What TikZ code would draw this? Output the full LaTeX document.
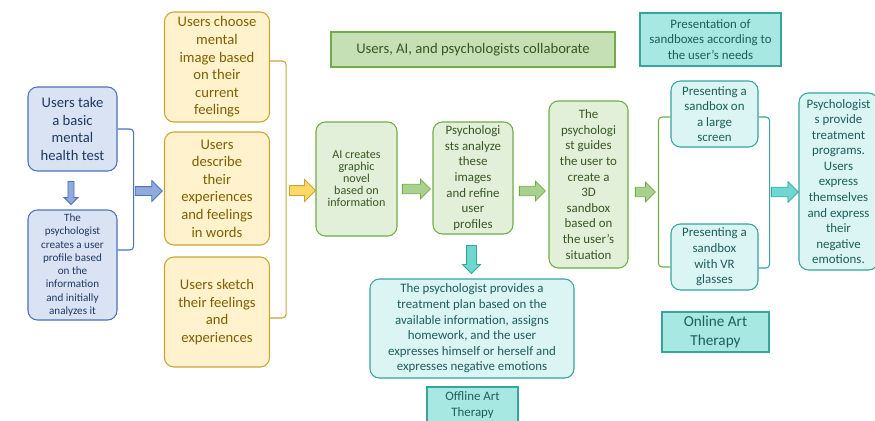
\documentclass[tikz,border=0pt]{standalone}
\usepackage{fontspec}
\setmainfont{Carlito}
\usepackage{tikz}
\usetikzlibrary{positioning,calc,shapes.arrows}
\definecolor{BlueFill}{HTML}{DAE3F3}
\definecolor{BlueLine}{HTML}{4A72BE}
\definecolor{BlueText}{HTML}{203864}
\definecolor{BlueArrow}{HTML}{8FAADC}
\definecolor{GoldFill}{HTML}{FFF2CC}
\definecolor{GoldLine}{HTML}{CDA434}
\definecolor{GoldText}{HTML}{7F6000}
\definecolor{GoldArrow}{HTML}{FFD966}
\definecolor{LeafFill}{HTML}{E2F0D9}
\definecolor{LeafLine}{HTML}{70AD47}
\definecolor{LeafText}{HTML}{385723}
\definecolor{LeafArrow}{HTML}{A9D18E}
\definecolor{LeafTitle}{HTML}{C5E0B4}
\definecolor{TealFill}{HTML}{DAF5F3}
\definecolor{TealLine}{HTML}{35A59D}
\definecolor{TealText}{HTML}{1D5F5A}
\definecolor{TealArrow}{HTML}{6DD8D0}
\definecolor{TealTag}{HTML}{A8E8E2}

\begin{document}
\begin{tikzpicture}[x=0.03cm, y=-0.03cm,
  stage/.style={draw, rounded corners=8pt, line width=0.9pt, align=center, inner sep=1pt},
  tag/.style={draw, line width=0.9pt, align=center, inner sep=1pt},
  boxsize/.style 2 args={minimum width=#1*0.03cm, minimum height=#2*0.03cm},
  bluebox/.style={stage, draw=BlueLine, fill=BlueFill, text=BlueText},
  goldbox/.style={stage, draw=GoldLine, fill=GoldFill, text=GoldText},
  leafbox/.style={stage, draw=LeafLine, fill=LeafFill, text=LeafText},
  tealbox/.style={stage, draw=TealLine, fill=TealFill, text=TealText},
  tealtag/.style={tag, draw=TealLine, fill=TealTag, text=TealText},
  bigtxt/.style={font=\fontsize{12.5}{15}\selectfont},
  midtxt/.style={font=\fontsize{11}{13.3}\selectfont},
  smalltxt/.style={font=\fontsize{9.5}{11.3}\selectfont},
  tinytxt/.style={font=\fontsize{10.3}{10.2}\selectfont},
  arrowbox/.style={single arrow, draw, line width=0.7pt, inner xsep=0pt, inner ysep=0.13cm,
    minimum width=0pt, single arrow head extend=0.17cm},
  bracket/.style={line width=0.9pt, rounded corners=3pt}
]
  \fill[white] (0,0) rectangle (875,420);
  \useasboundingbox (0,0) rectangle (875,420);

  %% test and profile
  \node[bluebox, bigtxt, boxsize={89}{84}] (test) at (72.5,129)
    {Users take\\a basic\\mental\\health test};
  \node[bluebox, smalltxt, boxsize={89}{110}] (profile) at (72.5,265)
    {The\\psychologist\\creates a user\\profile based\\on the\\information\\and initially\\analyzes it};
  \node[arrowbox, draw=BlueLine, fill=BlueArrow, rotate=-90, minimum height=0.69cm,
    inner ysep=0.08cm, single arrow head extend=0.115cm] (testdown) at (71,191.5) {};
  \draw[bracket, BlueLine] (test.east) -- ++(16,0) |- ([yshift=0.45cm]profile.east);
  \node[arrowbox, draw=BlueLine, fill=BlueArrow, minimum height=0.81cm,
    inner ysep=0.12cm, single arrow head extend=0.18cm] (bluego) at (146.5,191) {};

  %% three ways of expressing
  \node[goldbox, bigtxt, boxsize={105}{110}] (image) at (217,67)
    {Users choose\\mental\\image based\\on their\\current\\feelings};
  \node[goldbox, bigtxt, boxsize={105}{113}] (words) at (217,188.5)
    {Users\\describe\\their\\experiences\\and feelings\\in words};
  \node[goldbox, bigtxt, boxsize={105}{110}] (sketch) at (217,312)
    {Users sketch\\their feelings\\and\\experiences};
  \draw[bracket, GoldLine] ([yshift=0.18cm]image.east) -- ++(16,0) |- ([yshift=-0.18cm]sketch.east);
  \node[arrowbox, draw=GoldLine, fill=GoldArrow, minimum height=0.78cm,
    inner ysep=0.135cm, single arrow head extend=0.18cm] (goldgo) at (300,190.5) {};

  %% collaboration
  \node[tag, draw=LeafLine, fill=LeafTitle, text=LeafText, font=\fontsize{12.5}{15}\selectfont,
    boxsize={284}{35}] (collab) at (473,49.5) {Users, AI, and psychologists collaborate};
  \node[leafbox, tinytxt, boxsize={81}{114}] (novel) at (356.5,179)
    {AI creates\\graphic\\novel\\based on\\information};
  \node[leafbox, midtxt, boxsize={80}{112}] (refine) at (473,178)
    {Psychologi\\sts analyze\\these\\images\\and refine\\user\\profiles};
  \node[leafbox, midtxt, boxsize={79}{167}] (sandbox) at (588.5,184.5)
    {The\\psychologi\\st guides\\the user to\\create a\\3D\\sandbox\\based on\\the user's\\situation};
  \node[arrowbox, draw=LeafLine, fill=LeafArrow, minimum height=0.84cm,
    single arrow head extend=0.155cm] (leafgo1) at (414,189) {};
  \node[arrowbox, draw=LeafLine, fill=LeafArrow, minimum height=0.78cm,
    single arrow head extend=0.155cm] (leafgo2) at (530,191) {};
  \node[arrowbox, draw=LeafLine, fill=LeafArrow, minimum height=0.6cm,
    single arrow head extend=0.155cm] (leafgo3) at (643,192) {};

  %% offline branch
  \node[arrowbox, draw=TealLine, fill=TealArrow, rotate=-90, minimum height=0.84cm,
    inner ysep=0.135cm, single arrow head extend=0.12cm] (tealdown) at (471.5,257) {};
  \node[tealbox, midtxt, boxsize={204}{99}] (plan) at (472,328.5)
    {The psychologist provides a\\treatment plan based on the\\available information, assigns\\homework, and the user\\expresses himself or herself and\\expresses negative emotions};
  \node[tealtag, midtxt, boxsize={91}{36}] (offline) at (472.5,405) {Offline Art\\Therapy};

  %% online branch
  \node[tealtag, midtxt, boxsize={141}{53}] (present) at (710.5,39.5)
    {Presentation of\\sandboxes according to\\the user's needs};
  \node[tealbox, midtxt, boxsize={87}{66}] (screen) at (714.5,114)
    {Presenting a\\sandbox on\\a large\\screen};
  \node[tealbox, midtxt, boxsize={87}{66}] (glasses) at (714.5,257)
    {Presenting a\\sandbox\\with VR\\glasses};
  \draw[bracket, LeafLine] ([yshift=-0.09cm]screen.west) -- ++(-12,0) |- ([yshift=-0.3cm]glasses.west);
  \draw[bracket, TealLine] ([yshift=-0.09cm]screen.east) -- ++(11,0) |- ([yshift=-0.33cm]glasses.east);
  \node[arrowbox, draw=TealLine, fill=TealArrow, minimum height=0.81cm,
    single arrow head extend=0.17cm] (tealgo) at (782.5,192) {};
  \node[tealbox, midtxt, boxsize={79}{177}] (programs) at (838.5,181.5)
    {Psychologist\\s provide\\treatment\\programs.\\Users\\express\\themselves\\and express\\their\\negative\\emotions.};
  \node[tealtag, font=\fontsize{13}{16}\selectfont, boxsize={107}{40}] (online) at (715.5,332)
    {Online Art\\Therapy};
\end{tikzpicture}
\end{document}
